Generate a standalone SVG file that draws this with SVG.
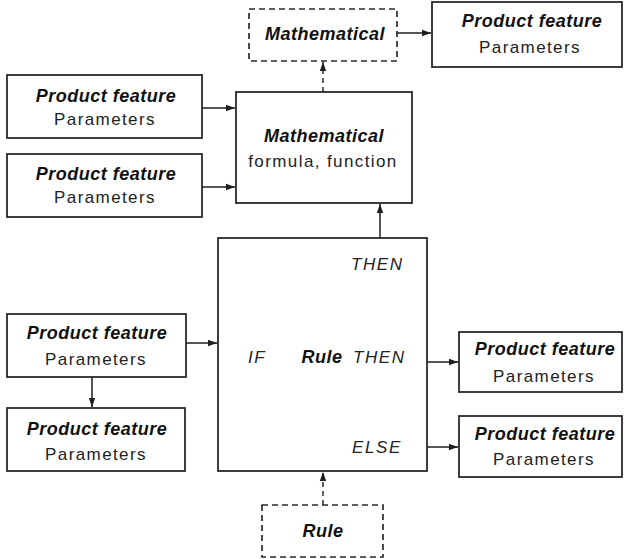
<svg xmlns="http://www.w3.org/2000/svg" width="625" height="559" viewBox="0 0 625 559">
  <defs>
    <style>
      .box { fill: #ffffff; stroke: #1e1e1e; stroke-width: 1.7; }
      .dbox { fill: #ffffff; stroke: #2a2a2a; stroke-width: 1.7; stroke-dasharray: 6 4; }
      .link { fill: none; stroke: #1e1e1e; stroke-width: 1.5; }
      .dlink { fill: none; stroke: #2a2a2a; stroke-width: 1.5; stroke-dasharray: 5 4; }
      .title { font-family: "Liberation Sans", Arial, sans-serif; font-size: 18px; font-weight: bold; font-style: italic; letter-spacing: 0.5px; fill: #111111; text-anchor: middle; }
      .sub { font-family: "Liberation Sans", Arial, sans-serif; font-size: 17px; letter-spacing: 1.4px; fill: #222222; text-anchor: middle; }
      .kw { font-family: "Liberation Sans", Arial, sans-serif; font-size: 17px; font-style: italic; letter-spacing: 1.6px; fill: #222222; }
    </style>
    <marker id="arrow" markerUnits="userSpaceOnUse" markerWidth="10" markerHeight="8" refX="9" refY="4" orient="auto">
      <path d="M0,0.8 L9,4 L0,7.2 Z" fill="#1e1e1e"/>
    </marker>
  </defs>

  <!-- connectors -->
  <g id="connectors">
    <line class="link" x1="202" y1="108" x2="235" y2="108" marker-end="url(#arrow)"/>
    <line class="link" x1="202" y1="187" x2="235" y2="187" marker-end="url(#arrow)"/>
    <line class="link" x1="380" y1="238" x2="380" y2="204" marker-end="url(#arrow)"/>
    <line class="dlink" x1="323" y1="92" x2="323" y2="62" marker-end="url(#arrow)"/>
    <line class="link" x1="397" y1="33" x2="431" y2="33" marker-end="url(#arrow)"/>
    <line class="link" x1="186" y1="343" x2="217" y2="343" marker-end="url(#arrow)"/>
    <line class="link" x1="92" y1="377" x2="92" y2="407" marker-end="url(#arrow)"/>
    <line class="link" x1="427" y1="362" x2="458" y2="362" marker-end="url(#arrow)"/>
    <line class="link" x1="427" y1="447" x2="458" y2="447" marker-end="url(#arrow)"/>
    <line class="dlink" x1="323" y1="505" x2="323" y2="472" marker-end="url(#arrow)"/>
  </g>

  <!-- left feature boxes feeding the formula -->
  <g id="feature-in-1">
    <rect class="box" x="7" y="75" width="195" height="63"/>
    <text class="title" x="106" y="102">Product feature</text>
    <text class="sub" x="105" y="125">Parameters</text>
  </g>
  <g id="feature-in-2">
    <rect class="box" x="7" y="154" width="195" height="63"/>
    <text class="title" x="106" y="180">Product feature</text>
    <text class="sub" x="105" y="203">Parameters</text>
  </g>

  <!-- formula block -->
  <g id="formula">
    <rect class="box" x="236" y="92" width="176" height="111"/>
    <text class="title" x="324" y="142">Mathematical</text>
    <text class="sub" x="323" y="167">formula, function</text>
  </g>

  <!-- optional mathematical output -->
  <g id="math-out">
    <rect class="dbox" x="249" y="9" width="148" height="52"/>
    <text class="title" x="325" y="40">Mathematical</text>
  </g>
  <g id="feature-math-out">
    <rect class="box" x="432" y="2" width="190" height="65"/>
    <text class="title" x="532" y="27">Product feature</text>
    <text class="sub" x="530" y="53">Parameters</text>
  </g>

  <!-- rule block -->
  <g id="rule">
    <rect class="box" x="218" y="238" width="209" height="233"/>
    <text class="kw" x="351" y="270">THEN</text>
    <text class="kw" x="248" y="363">IF</text>
    <text class="title" x="322" y="363" style="text-anchor: middle;">Rule</text>
    <text class="kw" x="353" y="363">THEN</text>
    <text class="kw" x="352" y="453">ELSE</text>
  </g>

  <!-- rule inputs -->
  <g id="feature-if">
    <rect class="box" x="7" y="314" width="179" height="63"/>
    <text class="title" x="97" y="339">Product feature</text>
    <text class="sub" x="96" y="365">Parameters</text>
  </g>
  <g id="feature-dep">
    <rect class="box" x="7" y="408" width="178" height="63"/>
    <text class="title" x="97" y="435">Product feature</text>
    <text class="sub" x="96" y="460">Parameters</text>
  </g>

  <!-- rule outputs -->
  <g id="feature-then">
    <rect class="box" x="459" y="332" width="163" height="60"/>
    <text class="title" x="545" y="355">Product feature</text>
    <text class="sub" x="544" y="382">Parameters</text>
  </g>
  <g id="feature-else">
    <rect class="box" x="459" y="416" width="163" height="61"/>
    <text class="title" x="545" y="440">Product feature</text>
    <text class="sub" x="544" y="465">Parameters</text>
  </g>

  <!-- optional rule source -->
  <g id="rule-src">
    <rect class="dbox" x="262" y="505" width="121" height="52"/>
    <text class="title" x="323" y="537">Rule</text>
  </g>
</svg>
